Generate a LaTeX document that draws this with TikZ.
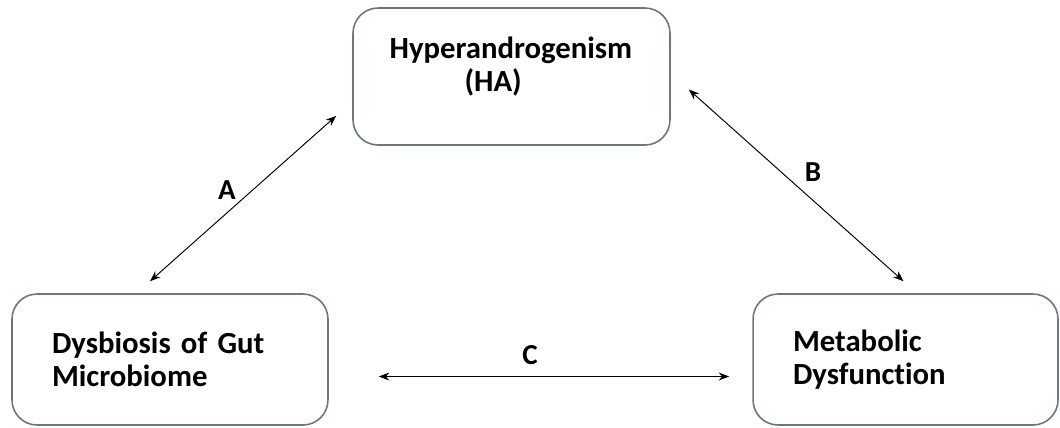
\documentclass[tikz,border=0pt]{standalone}
\usepackage{fontspec}
\setmainfont{Carlito}[Ligatures=CommonOff]
\usetikzlibrary{arrows.meta}

\begin{document}
\begin{tikzpicture}[x=0.02cm,y=-0.02cm,
  box/.style={draw={rgb,255:red,105;green,118;blue,132},line width=0.9pt,rounded corners=0.5cm,
    minimum height=2.62cm,inner xsep=0.8cm,align=left,
    font=\fontsize{17.5}{19}\selectfont\bfseries},
  boxtext/.style={anchor=west,inner sep=0pt,align=left,font=\fontsize{17.5}{19}\selectfont\bfseries},
  link/.style={line width=0.55pt,{Stealth[length=6pt,width=4.5pt]}-{Stealth[length=6pt,width=4.5pt]}},
  lab/.style={font=\fontsize{16.5}{16.5}\selectfont\bfseries}]
\useasboundingbox (0,0) rectangle (1060,427);
% boxes
\node[box,minimum width=6.34cm,minimum height=2.74cm] (ha) at (511.5,76.5) {};
\node[boxtext] (hat) at ([shift={(37,-10)}]ha.west) {Hyperandrogenism\\\hspace{1.5cm}(HA)};
\node[box,minimum width=6.32cm,text width=4.72cm] (dys) at (170,359.5) {Dysbiosis of Gut\\Microbiome};
\node[box,minimum width=6.1cm,text width=4.5cm] (met) at (905.5,359.5) {Metabolic\\Dysfunction};
% links
\draw[link] ([shift={(-20,-12)}]dys.north) -- ([shift={(-16,-30)}]ha.south west);
\draw[link] ([shift={(18,13)}]ha.east) -- ([shift={(-2,-12)}]met.north);
\draw[link] ([shift={(50,17)}]dys.east) -- ([shift={(-23,17)}]met.west);
\draw (227,190) node[lab] (la) {A};
\draw (813,172) node[lab] (lb) {B};
\draw (530,355) node[lab] (lc) {C};
\end{tikzpicture}
\end{document}
